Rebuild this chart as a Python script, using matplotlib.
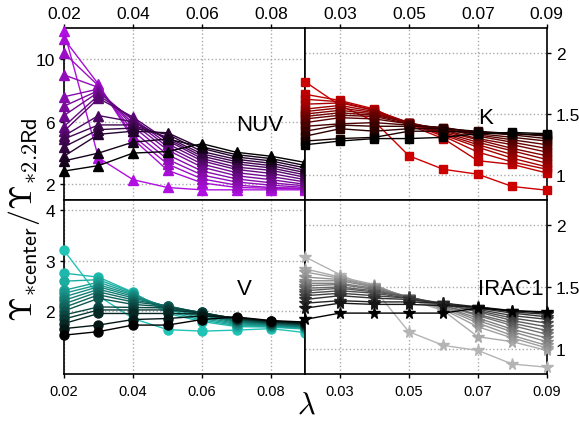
import matplotlib
matplotlib.use("Agg")
import matplotlib.pyplot as plt
import numpy as np
from matplotlib.colors import to_rgb

plt.rcParams["font.family"] = ["Liberation Sans", "DejaVu Sans"]
plt.rcParams["mathtext.fontset"] = "cm"

lam = [0.02, 0.03, 0.04, 0.05, 0.06, 0.07, 0.08, 0.09]

# rows: darkest model first, lightest last
nuv = [
    [2.85, 3.2, 4.0, 4.1, 4.6, 4.05, 3.8, 3.4],
    [3.5, 4.0, 4.7, 4.9, 4.4, 3.9, 3.65, 3.2],
    [3.8, 5.2, 5.4, 5.3, 4.3, 3.75, 3.5, 3.05],
    [4.4, 5.5, 5.6, 5.2, 4.1, 3.6, 3.35, 2.9],
    [4.9, 5.8, 5.8, 5.0, 3.95, 3.45, 3.2, 2.75],
    [5.1, 6.4, 6.0, 4.9, 3.8, 3.3, 3.05, 2.6],
    [5.4, 7.5, 6.3, 4.8, 3.65, 3.1, 2.9, 2.45],
    [5.7, 7.7, 6.2, 4.6, 3.5, 2.95, 2.7, 2.3],
    [6.4, 7.9, 6.1, 4.4, 3.3, 2.75, 2.5, 2.15],
    [7.0, 8.0, 5.9, 4.2, 3.1, 2.55, 2.3, 2.0],
    [7.6, 8.1, 5.7, 3.9, 2.85, 2.35, 2.1, 1.9],
    [9.0, 8.2, 5.4, 3.6, 2.6, 2.15, 1.95, 1.8],
    [10.4, 8.3, 5.1, 3.3, 2.35, 1.95, 1.8, 1.75],
    [11.3, 8.4, 4.9, 2.9, 2.1, 1.8, 1.75, 1.7],
    [11.8, 3.7, 2.3, 1.8, 1.65, 1.65, 1.65, 1.65],
]

kband = [
    [1.25, 1.28, 1.30, 1.30, 1.31, 1.34, 1.35, 1.34],
    [1.28, 1.30, 1.31, 1.36, 1.36, 1.35, 1.34, 1.33],
    [1.32, 1.38, 1.36, 1.38, 1.38, 1.36, 1.34, 1.32],
    [1.36, 1.41, 1.40, 1.40, 1.39, 1.35, 1.33, 1.30],
    [1.40, 1.42, 1.43, 1.41, 1.39, 1.34, 1.31, 1.28],
    [1.43, 1.47, 1.46, 1.42, 1.38, 1.33, 1.29, 1.25],
    [1.46, 1.49, 1.48, 1.42, 1.38, 1.32, 1.27, 1.22],
    [1.48, 1.51, 1.49, 1.43, 1.37, 1.30, 1.25, 1.19],
    [1.50, 1.53, 1.50, 1.43, 1.36, 1.29, 1.22, 1.16],
    [1.52, 1.55, 1.51, 1.43, 1.35, 1.27, 1.20, 1.13],
    [1.54, 1.57, 1.52, 1.43, 1.34, 1.25, 1.17, 1.10],
    [1.58, 1.59, 1.53, 1.43, 1.33, 1.23, 1.14, 1.07],
    [1.62, 1.60, 1.53, 1.42, 1.32, 1.19, 1.11, 1.05],
    [1.66, 1.61, 1.54, 1.41, 1.30, 1.12, 1.09, 1.02],
    [1.76, 1.57, 1.44, 1.16, 1.05, 1.01, 0.91, 0.88],
]

vband = [
    [1.52, 1.59, 1.72, 1.72, 1.83, 1.88, 1.81, 1.78],
    [1.65, 1.72, 1.83, 1.85, 1.90, 1.87, 1.80, 1.76],
    [1.75, 1.95, 1.95, 1.95, 1.94, 1.86, 1.79, 1.75],
    [1.84, 2.02, 2.02, 2.02, 1.96, 1.85, 1.78, 1.74],
    [1.92, 2.08, 2.07, 2.06, 1.97, 1.84, 1.77, 1.73],
    [2.00, 2.25, 2.13, 2.08, 1.97, 1.83, 1.76, 1.72],
    [2.07, 2.32, 2.18, 2.10, 1.96, 1.82, 1.75, 1.71],
    [2.14, 2.38, 2.22, 2.10, 1.95, 1.80, 1.74, 1.70],
    [2.21, 2.43, 2.26, 2.09, 1.93, 1.79, 1.73, 1.69],
    [2.28, 2.48, 2.29, 2.08, 1.91, 1.77, 1.72, 1.68],
    [2.35, 2.52, 2.32, 2.06, 1.88, 1.75, 1.71, 1.67],
    [2.41, 2.57, 2.34, 2.03, 1.85, 1.73, 1.70, 1.66],
    [2.59, 2.62, 2.36, 1.99, 1.82, 1.71, 1.69, 1.65],
    [2.75, 2.67, 2.37, 1.95, 1.79, 1.69, 1.68, 1.64],
    [3.2, 2.3, 1.85, 1.63, 1.60, 1.62, 1.65, 1.57],
]

irac1 = [
    [1.24, 1.29, 1.29, 1.29, 1.29, 1.33, 1.31, 1.30],
    [1.33, 1.37, 1.36, 1.36, 1.35, 1.34, 1.31, 1.29],
    [1.37, 1.39, 1.38, 1.38, 1.37, 1.34, 1.30, 1.28],
    [1.40, 1.43, 1.41, 1.40, 1.37, 1.33, 1.29, 1.26],
    [1.43, 1.45, 1.43, 1.41, 1.37, 1.32, 1.27, 1.24],
    [1.45, 1.47, 1.45, 1.41, 1.36, 1.31, 1.25, 1.21],
    [1.47, 1.49, 1.46, 1.42, 1.36, 1.30, 1.23, 1.18],
    [1.49, 1.50, 1.47, 1.42, 1.35, 1.28, 1.21, 1.15],
    [1.51, 1.52, 1.48, 1.42, 1.35, 1.27, 1.19, 1.12],
    [1.53, 1.53, 1.49, 1.42, 1.34, 1.25, 1.16, 1.09],
    [1.55, 1.55, 1.50, 1.42, 1.34, 1.23, 1.14, 1.06],
    [1.58, 1.56, 1.51, 1.41, 1.33, 1.21, 1.11, 1.03],
    [1.62, 1.57, 1.51, 1.41, 1.32, 1.18, 1.09, 1.01],
    [1.645, 1.58, 1.52, 1.40, 1.31, 1.10, 1.06, 0.99],
    [1.74, 1.60, 1.48, 1.14, 1.03, 0.99, 0.88, 0.855],
]

left_xticks = [0.02, 0.04, 0.06, 0.08]
left_xlabels = ["0.02", "0.04", "0.06", "0.08"]
right_xticks = [0.03, 0.05, 0.07, 0.09]
right_xlabels = ["0.03", "0.05", "0.07", "0.09"]

fig = plt.figure(figsize=(5.79, 4.39), dpi=100)

x0, xm, x1 = 64 / 579, 305.5 / 579, 546.7 / 579
ytop, ymid, ybot = 1 - 29 / 439, 1 - 201 / 439, 1 - 375 / 439

panels = [
    # name, data, marker, ms, colour, rect, ylim, yticks, yticklabels, text y
    ("NUV", nuv, "^", 7, "#b010e0", [x0, ymid, xm - x0, ytop - ymid],
     (1, 12), [2, 6, 10], ["2", "6", "10"], 5.5),
    ("K", kband, "s", 6, "#cc0000", [xm, ymid, x1 - xm, ytop - ymid],
     (0.8, 2.2), [1, 1.5, 2], ["1", "1.5", "2"], 1.43),
    ("V", vband, "o", 6.5, "#20c4b6", [x0, ybot, xm - x0, ymid - ybot],
     (0.75, 4.2), [2, 3, 4], ["2", "3", "4"], 2.34),
    ("IRAC1", irac1, "*", 8.5, "#b4b4b4", [xm, ybot, x1 - xm, ymid - ybot],
     (0.8, 2.2), [1, 1.5, 2], ["1", "1.5", "2"], 1.44),
]

for i, (name, data, mk, ms, col, rect, ylim, yt, ytl, ty) in enumerate(panels):
    ax = fig.add_axes(rect)
    n = len(data)
    c_light = np.array(to_rgb(col))
    # light models first so the dark ones end up on top
    for j in range(n - 1, -1, -1):
        c = c_light * (j / (n - 1)) ** 0.8
        ax.plot(lam, data[j], marker=mk, ms=ms, color=c, mec=c, lw=1.0,
                clip_on=False, zorder=3)
    ax.set_xlim(0.02, 0.09)
    ax.set_ylim(*ylim)
    ax.set_yticks(yt)
    ax.set_yticklabels(ytl, fontsize=12.5)
    right = i % 2 == 1
    top = i < 2
    if right:
        ax.set_xticks(right_xticks)
        ax.set_xticklabels(right_xlabels)
        ax.yaxis.tick_right()
    else:
        ax.set_xticks(left_xticks)
        ax.set_xticklabels(left_xlabels)
    if top:
        ax.xaxis.tick_top()
        ax.tick_params(axis="x", labelsize=12.5, pad=2)
    else:
        ax.tick_params(axis="x", labelsize=10.5, pad=4)
    ax.tick_params(length=3, width=1)
    ax.grid(True, ls=":", color="#aaaaaa", lw=1.0)
    for s in ax.spines.values():
        s.set_linewidth(1.2)
    ax.text(0.07, ty, name, fontsize=16, ha="left", va="baseline", zorder=5)

fig.text(0.042, 0.50, r"$\Upsilon_{\mathsf{*center}}/\Upsilon_{\mathsf{*2.2Rd}}$",
         rotation=90, fontsize=23, ha="center", va="center")
fig.text(0.53, 0.075, r"$\lambda$", fontsize=22, ha="center", va="center")

fig.savefig("out.png", dpi=100)
